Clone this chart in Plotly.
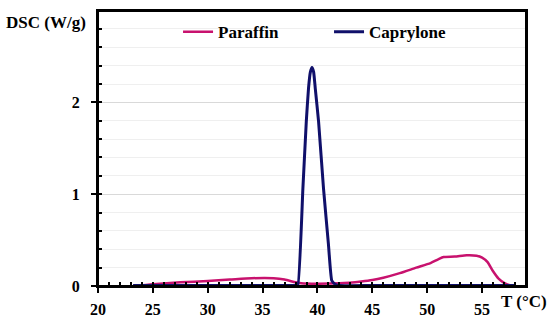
import plotly.graph_objects as go

# Paraffin DSC curve
paraffin_T = [23.2, 25, 27.5, 30, 32, 34, 36, 37, 38, 38.5, 40, 42, 44, 45, 46, 47.5, 49,
              50.3, 51.0, 51.5, 52.5, 53.6, 54.5, 55.0, 55.5, 56.0, 56.5, 57.0, 57.5, 58.0]
paraffin_V = [0.0, 0.02, 0.04, 0.055, 0.07, 0.085, 0.085, 0.07, 0.04, 0.03, 0.025, 0.03, 0.05,
              0.065, 0.09, 0.14, 0.2, 0.25, 0.29, 0.315, 0.32, 0.335, 0.33, 0.31, 0.26, 0.16,
              0.08, 0.035, 0.01, 0.0]

# Caprylone DSC curve
caprylone_T = [23.2, 25, 30, 35, 38.0, 38.2, 38.67, 38.98, 39.18, 39.35, 39.5, 39.65, 39.8,
               40.1, 40.55, 41.0, 41.3, 41.6, 42.0, 45, 50, 55, 58]
caprylone_V = [0.005, 0.005, 0.005, 0.005, 0.005, 0.0, 1.06, 1.79, 2.15, 2.33, 2.38, 2.33, 2.15,
               1.79, 1.06, 0.45, 0.06, 0.02, 0.005, 0.005, 0.005, 0.005, 0.005]

x_range = [20, 59]
y_range = [0, 2.995]

FONT = "Liberation Serif"

fig = go.Figure()
fig.add_trace(go.Scatter(x=paraffin_T, y=paraffin_V, mode="lines", name="Paraffin",
                         line=dict(color="#C8126E", width=2.5, shape="spline", smoothing=0.6)))
fig.add_trace(go.Scatter(x=caprylone_T, y=caprylone_V, mode="lines", name="Caprylone",
                         line=dict(color="#10106A", width=3, shape="spline", smoothing=0.4)))

fig.update_layout(
    template="none",
    width=550, height=324,
    margin=dict(l=98, r=24, t=11, b=38, autoexpand=False),
    paper_bgcolor="white", plot_bgcolor="white",
    font=dict(family=FONT, size=14, color="black"),
    showlegend=True,
    legend=dict(orientation="h", x=0.187, xanchor="left", y=0.923, yanchor="middle",
                bgcolor="rgba(0,0,0,0)", entrywidth=106, entrywidthmode="pixels",
                font=dict(family=FONT, size=17, color="black", weight="bold"),
                itemwidth=30, borderwidth=0),
    xaxis=dict(range=x_range, tickmode="linear", tick0=20, dtick=5,
               showgrid=False, zeroline=False, automargin=False,
               showline=True, linecolor="black", linewidth=2, mirror=True,
               ticks="outside", ticklen=5, tickwidth=2, tickcolor="black",
               ticklabelstandoff=3,
               tickfont=dict(family=FONT, size=16, color="black", weight="bold"),
               minor=dict(dtick=1, tick0=20, ticks="inside", ticklen=4, tickwidth=1.5,
                          tickcolor="black", showgrid=False)),
    yaxis=dict(range=y_range, tickmode="linear", tick0=0, dtick=1,
               showgrid=True, gridcolor="#d9d9d9", gridwidth=1,
               automargin=False,
               zeroline=False, showline=True, linecolor="black", linewidth=2, mirror=True,
               ticks="outside", ticklen=5, tickwidth=2, tickcolor="black",
               ticklabelstandoff=8,
               tickfont=dict(family=FONT, size=16, color="black", weight="bold"),
               minor=dict(dtick=0.2, tick0=0, ticks="inside", ticklen=4, tickwidth=1.5,
                          tickcolor="black", showgrid=True, gridcolor="#efefef", gridwidth=1)),
    shapes=[dict(type="rect", xref="paper", yref="paper", x0=0, x1=1, y0=0, y1=1,
                 line=dict(color="black", width=2), fillcolor="rgba(0,0,0,0)", layer="above")],
    annotations=[
        dict(text="DSC (W/g)", xref="paper", yref="paper", x=-0.023, y=0.96,
             xanchor="right", yanchor="middle", showarrow=False,
             font=dict(family=FONT, size=17, color="black", weight="bold")),
        dict(text="T (°C)", xref="paper", yref="paper", x=0.937, y=-0.058,
             xanchor="left", yanchor="middle", showarrow=False,
             font=dict(family=FONT, size=17, color="black", weight="bold")),
    ],
)

fig.write_html("out.html", config={"displayModeBar": False},
               post_script="document.body.style.margin='0';document.body.style.padding='0';")
